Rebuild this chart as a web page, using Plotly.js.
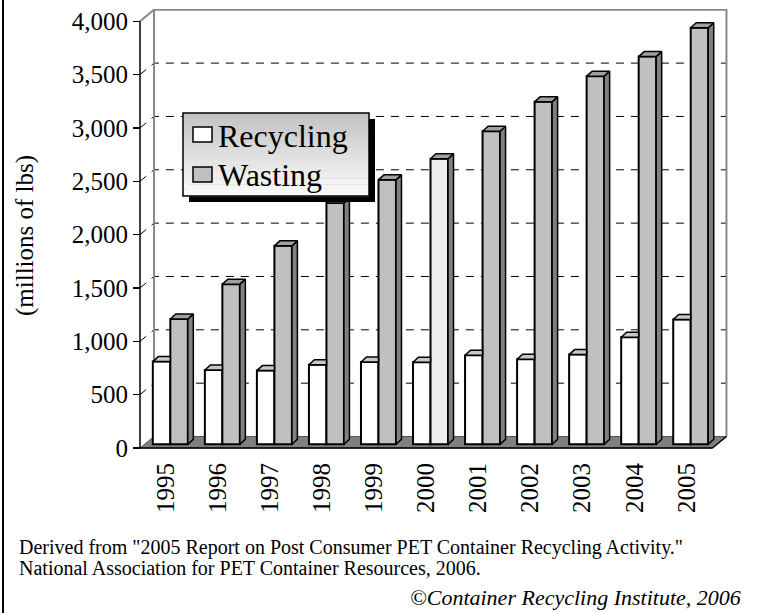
<!DOCTYPE html>
<html>
<head>
<meta charset="utf-8">
<script src="https://cdn.plot.ly/plotly-3.0.1.min.js"></script>
<style>
  html, body { margin: 0; padding: 0; background: #ffffff; }
  #chart { width: 758px; height: 613px; }
</style>
</head>
<body>
<div id="chart"></div>
<script>
// ---- data (millions of lbs) ----
const years = [1995, 1996, 1997, 1998, 1999, 2000, 2001, 2002, 2003, 2004, 2005];
const recycling = [775, 697, 691, 745, 771, 769, 834, 797, 841, 1003, 1170];
const wasting = [1175, 1501, 1860, 2261, 2479, 2676, 2934, 3210, 3451, 3634, 3905];
const yTicks = [0, 500, 1000, 1500, 2000, 2500, 3000, 3500, 4000];
const seriesNames = ['Recycling', 'Wasting'];
const highlightYear = 2000;

// ---- pseudo-3D geometry (in axis units) ----
const FONT = 'Liberation Serif, Times New Roman, Times, serif';
const PXX = 52.04;          // px per category
const PXY = 0.106685;       // px per value unit
const DX = 14 / PXX, DY = 11.5 / PXY;        // depth of the back wall
const BX = 4.3 / PXX, BY = 3.7 / PXY;        // front plane of the bars
const BW = 17.5 / PXX;                       // bar width
const BDX = 5.5 / PXX, BDY = 5 / PXY;        // bar depth
const x0 = years[0] - 0.5, x1 = years[years.length - 1] + 0.5;
const yMax = yTicks[yTicks.length - 1];

// plot area (px)
const ML = 130, MR = 30, MT = 9, MB = 155, WID = 758, HEI = 613;
const pw = WID - ML - MR, ph = HEI - MT - MB;
const xr0 = x0 - (10 / PXX), xr1 = xr0 + pw / PXX;
const yr0 = -10 / PXY, yr1 = yr0 + ph / PXY;
const px = v => (v - ML) / pw;          // page px -> paper x
const py = v => (HEI - MB - v) / ph;    // page px -> paper y

function polys(fn) {
  const xs = [], ys = [];
  years.forEach((yr, i) => {
    const pts = fn(yr, i);
    pts.forEach(p => { xs.push(p[0]); ys.push(p[1]); });
    xs.push(pts[0][0]); ys.push(pts[0][1]);
    xs.push(null); ys.push(null);
  });
  return { x: xs, y: ys };
}

const wSide = polys((yr, i) => {
  const xr = yr + BX + BW, t = BY + wasting[i];
  return [[xr, BY], [xr + BDX, BY + BDY], [xr + BDX, t + BDY], [xr, t]];
});
const wTop = polys((yr, i) => {
  const xl = yr + BX, xr = yr + BX + BW, t = BY + wasting[i];
  return [[xl, t], [xl + BDX, t + BDY], [xr + BDX, t + BDY], [xr, t]];
});
const rTop = polys((yr, i) => {
  const xl = yr + BX - BW, xr = yr + BX, t = BY + recycling[i];
  return [[xl, t], [xl + BDX, t + BDY], [xr, t + BDY], [xr, t]];
});

const RECY_COLOR = '#ffffff', WASTE_COLOR = '#c0c0c0';
const traces = [
  {
    type: 'bar', name: seriesNames[0], x: years, y: recycling, base: BY,
    width: BW, offset: BX - BW,
    marker: { color: RECY_COLOR, line: { color: '#000000', width: 2 } },
    hoverinfo: 'x+y+name', showlegend: false
  },
  {
    type: 'bar', name: seriesNames[1], x: years, y: wasting, base: BY,
    width: BW, offset: BX,
    marker: { color: years.map(y => y === highlightYear ? '#eeeeee' : WASTE_COLOR),
              line: { color: '#000000', width: 2 } },
    hoverinfo: 'x+y+name', showlegend: false
  },
  { type: 'scatter', mode: 'lines', x: wSide.x, y: wSide.y, fill: 'toself', fillcolor: '#808080',
    line: { color: '#000000', width: 1.5 }, showlegend: false, hoverinfo: 'skip' },
  { type: 'scatter', mode: 'lines', x: wTop.x, y: wTop.y, fill: 'toself', fillcolor: '#a0a0a0',
    line: { color: '#000000', width: 1.5 }, showlegend: false, hoverinfo: 'skip' },
  { type: 'scatter', mode: 'lines', x: rTop.x, y: rTop.y, fill: 'toself', fillcolor: '#c8c8c8',
    line: { color: '#000000', width: 1.5 }, showlegend: false, hoverinfo: 'skip' }
];

// ---- frame shapes ----
const shapes = [];
// floor
shapes.push({ type: 'path', layer: 'below', xref: 'x', yref: 'y',
  path: `M${x0},0 L${x1},0 L${x1 + DX},${DY} L${x0 + DX},${DY} Z`,
  fillcolor: '#808080', line: { color: '#555555', width: 1 } });
// gridlines on back wall (with diagonal lead-in)
yTicks.filter(v => v > 0 && v < yMax).forEach(v => {
  shapes.push({ type: 'path', layer: 'below', xref: 'x', yref: 'y',
    path: `M${x0},${v} L${x0 + DX},${v + DY} L${x1 + DX},${v + DY}`,
    line: { color: '#000000', width: 1, dash: '8px,7px' } });
});
// back wall border
shapes.push({ type: 'path', layer: 'below', xref: 'x', yref: 'y',
  path: `M${x0 + DX},${DY} L${x0 + DX},${yMax + DY} L${x1 + DX},${yMax + DY} L${x1 + DX},${DY}`,
  line: { color: '#888888', width: 2 } });
shapes.push({ type: 'line', layer: 'below', xref: 'x', yref: 'y',
  x0: x0, y0: yMax, x1: x0 + DX, y1: yMax + DY, line: { color: '#888888', width: 2 } });
// axis lines
shapes.push({ type: 'line', layer: 'above', xref: 'x', yref: 'y',
  x0: x0, y0: 0, x1: x0, y1: yMax, line: { color: '#000000', width: 1.5 } });
shapes.push({ type: 'line', layer: 'above', xref: 'x', yref: 'y',
  x0: x0, y0: 0, x1: x1, y1: 0, line: { color: '#000000', width: 1.5 } });
shapes.push({ type: 'line', layer: 'above', xref: 'x', yref: 'y',
  x0: x1, y0: 0, x1: x1 + DX, y1: DY, line: { color: '#000000', width: 1.5 } });

// legend box: shadow, gradient, border
const LB = { l: 183, t: 113, r: 369, b: 196 };
shapes.push({ type: 'rect', layer: 'above', xref: 'paper', yref: 'paper',
  x0: px(LB.l + 6), x1: px(LB.r + 6), y0: py(LB.b + 6), y1: py(LB.t + 6),
  fillcolor: '#000000', line: { width: 0 } });
const strips = 14;
for (let k = 0; k < strips; k++) {
  const c = Math.round(0xc4 + (0xfa - 0xc4) * k / (strips - 1));
  const hex = c.toString(16).padStart(2, '0');
  const t = LB.t + (LB.b - LB.t) * k / strips, b = LB.t + (LB.b - LB.t) * (k + 1) / strips;
  shapes.push({ type: 'rect', layer: 'above', xref: 'paper', yref: 'paper',
    x0: px(LB.l), x1: px(LB.r), y0: py(b + 0.6), y1: py(t),
    fillcolor: '#' + hex + hex + hex, line: { width: 0 } });
}
shapes.push({ type: 'rect', layer: 'above', xref: 'paper', yref: 'paper',
  x0: px(LB.l), x1: px(LB.r), y0: py(LB.b), y1: py(LB.t),
  fillcolor: 'rgba(0,0,0,0)', line: { color: '#000000', width: 1.5 } });
// legend entries (symbols + labels)
const legendRows = [134.5, 174.5];
const legendColors = [RECY_COLOR, WASTE_COLOR];
const legendAnn = [];
seriesNames.forEach((nm, i) => {
  const cy = legendRows[i];
  shapes.push({ type: 'rect', layer: 'above', xref: 'paper', yref: 'paper',
    x0: px(193), x1: px(212), y0: py(cy + 7.5), y1: py(cy - 7.5),
    fillcolor: legendColors[i], line: { color: '#000000', width: 1.5 } });
  legendAnn.push({ text: nm, xref: 'paper', yref: 'paper', x: px(216), y: py(cy + 1),
    xanchor: 'left', yanchor: 'middle', showarrow: false,
    font: { family: FONT, size: 32, color: '#000000' } });
});
// left page border
shapes.push({ type: 'line', layer: 'above', xref: 'paper', yref: 'paper',
  x0: px(3), x1: px(3), y0: py(HEI), y1: py(0), line: { color: '#000000', width: 2 } });

const layout = {
  width: WID, height: HEI,
  margin: { l: ML, r: MR, t: MT, b: MB, pad: 0 },
  paper_bgcolor: '#ffffff', plot_bgcolor: 'rgba(0,0,0,0)',
  font: { family: FONT, color: '#000000', size: 25 },
  barmode: 'overlay',
  showlegend: false,
  xaxis: {
    type: 'linear', range: [xr0, xr1], anchor: 'free', position: py(448),
    tickmode: 'array', tickvals: years, ticktext: years.map(String),
    tickangle: -90, ticks: 'outside', ticklen: 4, tickcolor: 'rgba(0,0,0,0)',
    tickfont: { family: FONT, size: 25, color: '#000000' },
    showgrid: false, zeroline: false, showline: false, fixedrange: true
  },
  xaxis2: {
    type: 'linear', range: [xr0, xr1], overlaying: 'x', anchor: 'free', position: py(448),
    tickmode: 'array', tickvals: years.map(v => v - 0.5).concat([x1]),
    ticks: 'outside', ticklen: 8, tickwidth: 1.5, tickcolor: '#000000',
    showticklabels: false, showgrid: false, zeroline: false, showline: false, fixedrange: true
  },
  yaxis: {
    type: 'linear', range: [yr0, yr1], anchor: 'free', position: px(140),
    tickmode: 'array', tickvals: yTicks, tickformat: ',d',
    ticks: 'outside', ticklen: 7, tickwidth: 1.5, tickcolor: '#000000',
    tickfont: { family: FONT, size: 25, color: '#000000' },
    showgrid: false, zeroline: false, showline: false, fixedrange: true
  },
  shapes: shapes,
  annotations: legendAnn.concat([
    { text: '(millions of lbs)', textangle: -90, xref: 'paper', yref: 'paper',
      x: px(25), y: py(236), xanchor: 'center', yanchor: 'middle', showarrow: false,
      font: { family: FONT, size: 25, color: '#000000' } },
    { text: 'Derived from "2005 Report on Post Consumer PET Container Recycling Activity."',
      xref: 'paper', yref: 'paper', x: px(17), y: py(547), xanchor: 'left', yanchor: 'middle',
      showarrow: false, font: { family: FONT, size: 20, color: '#000000' } },
    { text: 'National Association for PET Container Resources, 2006.',
      xref: 'paper', yref: 'paper', x: px(17), y: py(568), xanchor: 'left', yanchor: 'middle',
      showarrow: false, font: { family: FONT, size: 20, color: '#000000' } },
    { text: '<i>©Container Recycling Institute, 2006</i>',
      xref: 'paper', yref: 'paper', x: px(743), y: py(597), xanchor: 'right', yanchor: 'middle',
      showarrow: false, font: { family: FONT, size: 22, color: '#000000' } }
  ])
};

Plotly.newPlot('chart', traces, layout, { displayModeBar: false, staticPlot: true });
</script>
</body>
</html>
